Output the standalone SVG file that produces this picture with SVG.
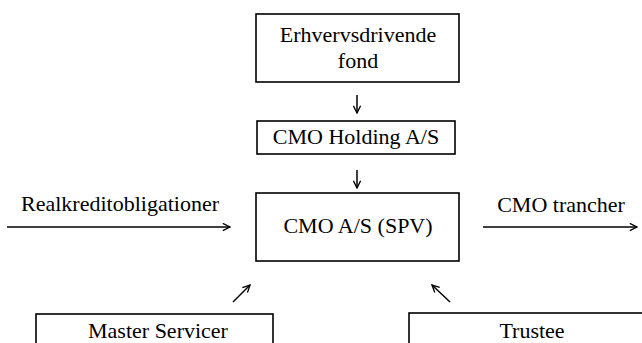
<svg xmlns="http://www.w3.org/2000/svg" width="642" height="343" viewBox="0 0 642 343">
  <style>
    .box { fill: #fff; stroke: #000; stroke-width: 1.6; }
    .lbl { font-family: "Liberation Serif", "Times New Roman", serif; font-size: 22px; fill: #000; text-anchor: middle; }
    .conn { fill: none; stroke: #000; stroke-width: 1.5; marker-end: url(#head); }
  </style>
  <defs>
    <marker id="head" viewBox="0 0 10 10" refX="9" refY="5" markerWidth="9" markerHeight="9" markerUnits="userSpaceOnUse" orient="auto">
      <path d="M1,1 L9,5 L1,9" fill="none" stroke="#000" stroke-width="1.5"/>
    </marker>
  </defs>
  <rect width="642" height="343" fill="#fff"/>

  <g id="fond">
    <rect class="box" x="256" y="14" width="203" height="68"/>
    <text class="lbl" x="358" y="42">Erhvervsdrivende</text>
    <text class="lbl" x="358" y="68">fond</text>
  </g>

  <g id="holding">
    <rect class="box" x="257" y="121" width="198" height="33"/>
    <text class="lbl" x="356" y="144">CMO Holding A/S</text>
  </g>

  <g id="spv">
    <rect class="box" x="256" y="193" width="203" height="68"/>
    <text class="lbl" x="358" y="233">CMO A/S (SPV)</text>
  </g>

  <g id="master-servicer">
    <rect class="box" x="36" y="314" width="237" height="60"/>
    <text class="lbl" x="158" y="338">Master Servicer</text>
  </g>

  <g id="trustee">
    <rect class="box" x="409" y="313" width="260" height="60"/>
    <text class="lbl" x="532" y="338">Trustee</text>
  </g>

  <g id="connectors">
    <path class="conn" d="M357,95 L357,113"/>
    <path class="conn" d="M357,170 L357,188"/>
    <path class="conn" d="M7,227 L230,227"/>
    <path class="conn" d="M483,227 L637,227"/>
    <path class="conn" d="M233,302 L250,285"/>
    <path class="conn" d="M450,302 L432,285"/>
    <text class="lbl" x="120" y="211">Realkreditobligationer</text>
    <text class="lbl" x="561" y="212">CMO trancher</text>
  </g>
</svg>
